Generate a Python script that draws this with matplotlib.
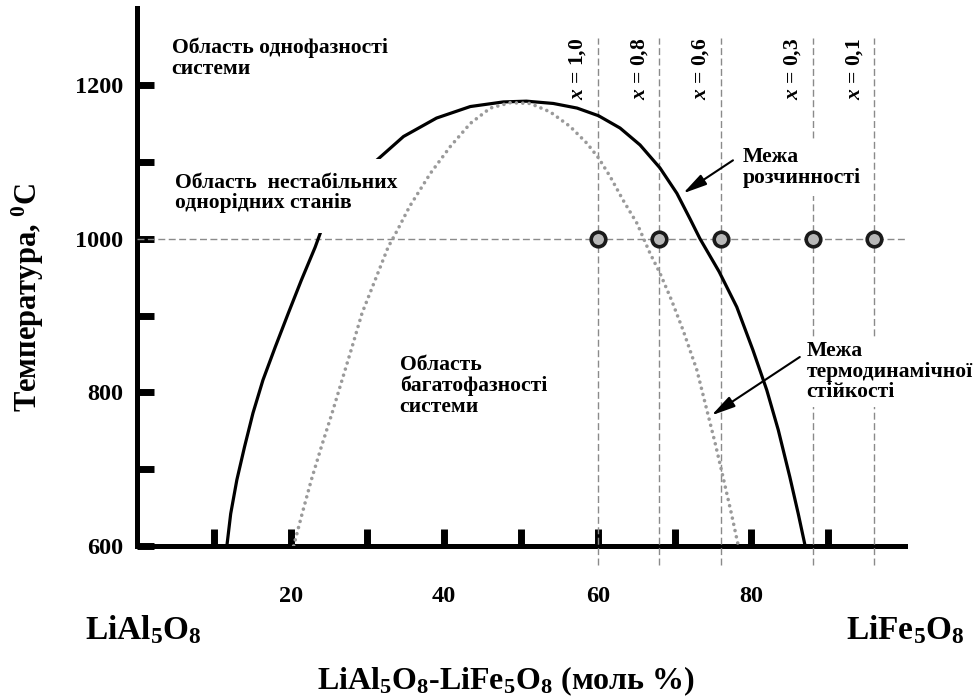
import matplotlib
matplotlib.use("Agg")
import matplotlib.pyplot as plt
from matplotlib.patches import Rectangle

plt.rcParams['font.family'] = ['Liberation Serif', 'DejaVu Serif']
plt.rcParams['font.weight'] = 'bold'
plt.rcParams['mathtext.fontset'] = 'custom'
plt.rcParams['mathtext.rm'] = 'Liberation Serif:bold'
plt.rcParams['mathtext.bf'] = 'Liberation Serif:bold'
plt.rcParams['mathtext.it'] = 'Liberation Serif:italic:bold'

# ---- data ----
# solubility limit (binodal), mol % vs T
binodal_x = [11.7, 12.2, 13.0, 14.0, 15.1, 16.4, 18.0, 19.7, 21.4, 23.2, 24.0,
             31.2, 34.7, 39.0, 43.4, 47.7, 50.7, 54.2, 57.3, 60.1, 62.9, 65.5, 68.1,
             70.3, 72.0, 73.3, 75.8, 78.1, 80.2, 82.0, 83.5, 85.0, 86.1, 87.0]
binodal_T = [600, 642, 686, 729, 773, 816, 859, 903, 946, 989, 1011,
             1102, 1133, 1157, 1172, 1178, 1179, 1176, 1170, 1160, 1144, 1122, 1092,
             1059, 1026, 1000, 957, 911, 855, 803, 751, 690, 642, 600]
# thermodynamic stability limit (spinodal)
spinodal_x = [20.4, 21.5, 22.7, 24.0, 25.4, 26.7, 28.0, 29.3, 31.0, 32.7, 33.9, 35.5,
              38.2, 40.8, 43.4, 46.0, 48.6, 51.2, 53.8, 56.4, 58.6, 60.1, 61.6, 63.3,
              65.1, 66.8, 68.1, 69.6, 71.1, 72.9, 74.2, 75.3, 76.3, 77.4, 78.3]
spinodal_T = [600, 642, 686, 729, 773, 816, 859, 903, 946, 989, 1011, 1042,
              1085, 1120, 1150, 1170, 1177, 1176, 1165, 1146, 1124, 1105, 1081, 1050,
              1020, 981, 955, 920, 881, 829, 777, 733, 690, 642, 600]

# compositions (x values) studied at 1000 C
comp_pos = [60, 68, 76, 88, 96]
comp_labels = ['1,0', '0,8', '0,6', '0,3', '0,1']
T_study = 1000

x_ticks = [10, 20, 30, 40, 50, 60, 70, 80, 90]
x_ticklabels = ['', '20', '', '40', '', '60', '', '80', '']
y_ticks = [600, 700, 800, 900, 1000, 1100, 1200]
y_ticklabels = ['600', '', '800', '', '1000', '', '1200']

# ---- figure ----
fig = plt.figure(figsize=(9.76, 6.99), dpi=100)
ax = fig.add_axes([137/976, 1-546/699, (905-137)/976, (546-8.2)/699])
ax.set_xlim(0, 100)
ax.set_ylim(600, 1300)

for s in ['top', 'right']:
    ax.spines[s].set_visible(False)
for s in ['left', 'bottom']:
    ax.spines[s].set_linewidth(3.6)
    ax.spines[s].set_zorder(2)

ax.set_xticks(x_ticks, x_ticklabels)
ax.set_yticks(y_ticks, y_ticklabels)
ax.tick_params(axis='both', direction='in', length=12, width=5, color='black',
               labelsize=17.5)
ax.tick_params(axis='x', pad=29)
ax.tick_params(axis='y', pad=10)
for lab in ax.get_xticklabels() + ax.get_yticklabels():
    lab.set_fontweight('bold')

dash_col = '#8a8a8a'
# horizontal line at T study
ax.plot([0, 100], [T_study, T_study], color=dash_col, lw=1.0, ls=(0, (5, 2.5)),
        zorder=3, clip_on=False)
# vertical composition lines
for xp, lab in zip(comp_pos, comp_labels):
    ax.plot([xp, xp], [575, 1261], color=dash_col, lw=1.0, ls=(0, (5, 2.5)),
            zorder=3, clip_on=False)
    ax.text(xp - 2.6, 1221, r'$x$ = ' + lab, rotation=90, ha='center', va='center',
            fontsize=15.5, fontweight='bold', clip_on=False)

# curves
ax.plot(binodal_x, binodal_T, color='black', lw=2.3, solid_capstyle='butt',
        solid_joinstyle='round', zorder=4)
ax.plot(spinodal_x, spinodal_T, color='#9a9a9a', lw=2.6, ls=(0, (0.01, 1.75)),
        dash_capstyle='round', zorder=4)

# points
ax.plot(comp_pos, [T_study]*len(comp_pos), ls='none', marker='o', ms=10.5, mew=2.6,
        mfc='#b8b8b8', mec='#1a1a1a', zorder=6, clip_on=False)

# white mask behind the unstable-region label (hides the solubility curve there)
ax.add_patch(Rectangle((3.0, 1008), 29.5, 96, facecolor='white', edgecolor='none',
                       zorder=5))

# region texts
wb = dict(facecolor='white', edgecolor='none')
fs = 15.6
ax.text(4.5, 1262, 'Область однофазності\nсистеми', ha='left', va='top', fontsize=fs,
        linespacing=1.05, zorder=7)
ax.text(5.0, 1086, 'Область  нестабільних\nоднорідних станів', ha='left', va='top',
        fontsize=fs, linespacing=1.05, zorder=7)
ax.text(34.2, 849, 'Область\nбагатофазності\nсистеми', ha='left', va='top', fontsize=fs,
        linespacing=1.05, zorder=7)
ax.text(78.9, 1119, 'Межа\nрозчинності', ha='left', va='top', fontsize=fs,
        linespacing=1.05, zorder=7, bbox=dict(boxstyle='square,pad=0.35', **wb))
ax.text(87.2, 867, 'Межа\nтермодинамічної\nстійкості', ha='left', va='top', fontsize=fs,
        linespacing=1.05, zorder=7, bbox=dict(boxstyle='square,pad=0.2', **wb),
        clip_on=False)

arrow = dict(arrowstyle='-|>,head_width=0.22,head_length=0.9', lw=1.5, color='black',
             shrinkA=0, shrinkB=0, mutation_scale=16)
ax.annotate('', xy=(71.1, 1059), xytext=(77.6, 1102), arrowprops=arrow, zorder=8)
ax.annotate('', xy=(74.8, 770), xytext=(86.3, 846), arrowprops=arrow, zorder=8)

# outer labels
fig.text(85/976, 1-630/699, 'LiAl$_5$O$_8$', ha='left', va='center', fontsize=24,
         fontweight='bold')
fig.text(965/976, 1-630/699, 'LiFe$_5$O$_8$', ha='right', va='center', fontsize=24,
         fontweight='bold')
fig.text(506/976, 1-689/699, 'LiAl$_5$O$_8$-LiFe$_5$O$_8$ (моль %)', ha='center',
         va='baseline', fontsize=23, fontweight='bold')
fig.text(28/976, 1-297/699, 'Температура, $^0$C', rotation=90, ha='center', va='center',
         fontsize=22, fontweight='bold')

fig.savefig('out.png', dpi=100)
